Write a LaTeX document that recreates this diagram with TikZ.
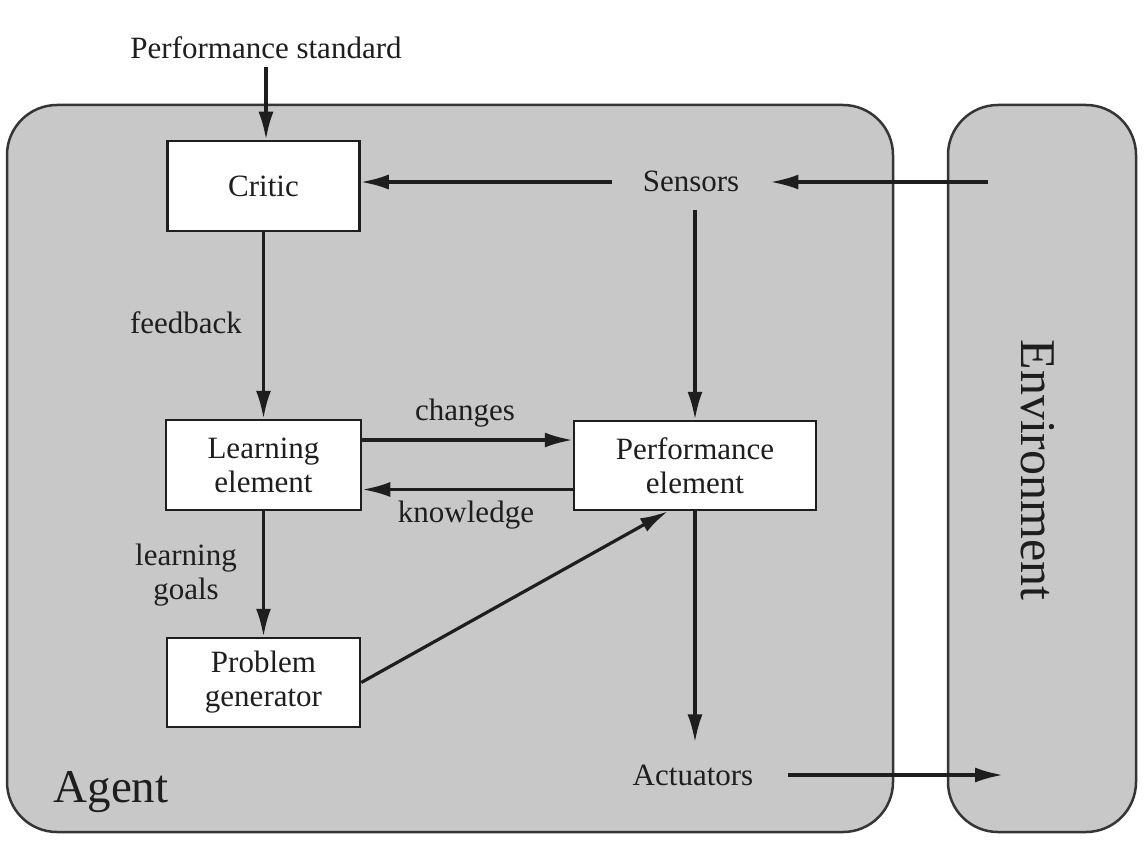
\documentclass[tikz,border=0pt]{standalone}
\usepackage{fontspec}
\setmainfont{Liberation Serif}
\usetikzlibrary{arrows.meta}
\definecolor{panel}{RGB}{200,200,200}
\definecolor{ink}{RGB}{30,30,30}
\begin{document}
\begin{tikzpicture}[x=1pt,y=-1pt,
  every node/.style={font=\fontsize{31}{34}\selectfont, text=ink},
  blk/.style={draw=ink, line width=2.5pt, fill=white, align=center, inner sep=0pt},
  lbl/.style={align=center, inner sep=0pt},
  panelbox/.style={draw=ink!90, line width=2.5pt, fill=panel, rounded corners=50pt},
  arr/.style={draw=ink, line width=3.2pt, -{Latex[length=28pt,width=15pt]}}]
\useasboundingbox (0,0) rectangle (1146,848);
\fill[white] (0,0) rectangle (1146,848);
\draw[panelbox] (7,105) rectangle (893,832);
\draw[panelbox] (948,105) rectangle (1136,832);
\node[blk, minimum width=192pt, minimum height=90pt] (critic) at (263.5,186) {Critic};
\node[blk, minimum width=195pt, minimum height=90pt] (learn) at (263.5,465) {Learning\\element};
\node[blk, minimum width=242pt, minimum height=89pt] (perf) at (695,465.5) {Performance\\element};
\node[blk, minimum width=193pt, minimum height=89pt] (prob) at (263.5,682.5) {Problem\\generator};
\node[lbl, inner ysep=8pt] (ps) at (266,48) {Performance standard};
\node[lbl, inner xsep=31pt, inner ysep=18pt] (sens) at (691,181) {Sensors};
\node[lbl, inner xsep=35pt, inner ysep=22pt] (act) at (693,775) {Actuators};
\node[lbl, font=\fontsize{47}{50}\selectfont] (agent) at (111,792) {Agent};
\node[lbl, font=\fontsize{50}{53}\selectfont, rotate=-90] (env) at (1038,470) {Environment};
\node[lbl] (fb) at (186,323) {feedback};
\node[lbl] (lg) at (186,575) {learning\\goals};
\node[lbl] (ch) at (465,413) {changes};
\node[lbl] (kn) at (466,515) {knowledge};
\coordinate (envin) at (988,182);
\coordinate (envout) at (1003,775);
\draw[arr] (ps.south) -- (ps.south |- critic.north);
\draw[arr] (envin) -- (sens.east |- envin);
\draw[arr] (sens.west |- envin) -- (critic.east |- envin);
\draw[arr] (perf.north |- sens.south) -- (perf.north);
\draw[arr] (critic.south) -- (critic.south |- learn.north);
\draw[arr] ([yshift=25pt]learn.east) -- ([yshift=25pt]learn.east -| perf.west);
\draw[arr] ([yshift=-24pt]perf.west) -- ([yshift=-24pt]perf.west -| learn.east);
\draw[arr] (learn.south) -- (prob.north);
\draw[arr] (prob.east) -- ([xshift=-27pt]perf.south);
\draw[arr] (perf.south) -- (perf.south |- act.north);
\draw[arr] (act.east) -- (envout);
\end{tikzpicture}
\end{document}
